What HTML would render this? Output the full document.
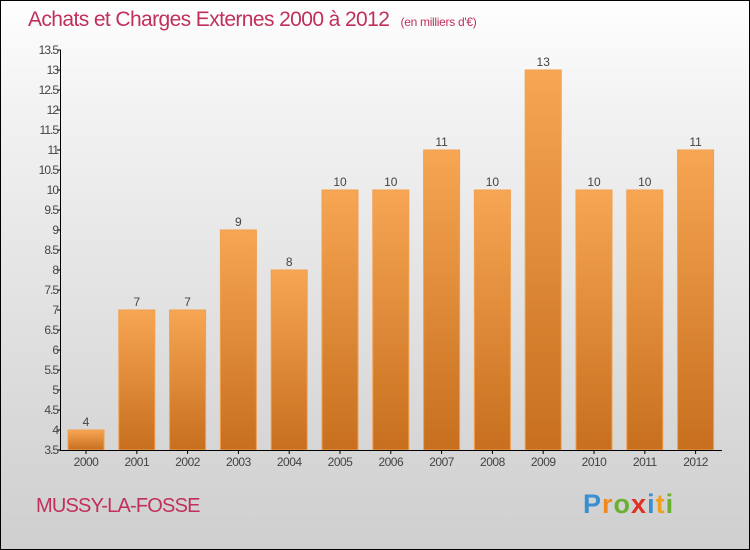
<!DOCTYPE html>
<html><head><meta charset="utf-8"><style>
body{margin:0;}
#c{width:750px;height:550px;position:relative;box-sizing:border-box;border:1px solid #000;background:linear-gradient(#fefefe,#f2f2f2 20%,#d9d9d9 75%,#cfcfcf);font-family:"Liberation Sans",sans-serif;overflow:hidden}
</style></head><body>
<div id="c">
<div style="position:absolute;left:27px;top:7px;font-size:21px;color:#c0305a;white-space:nowrap;letter-spacing:-0.6px">Achats et Charges Externes 2000 à 2012 <span style="font-size:12px;margin-left:6px;letter-spacing:-0.3px">(en milliers d'€)</span></div>
<div style="position:absolute;left:35px;top:494px;font-size:20px;color:#c0305a;letter-spacing:-0.8px">MUSSY-LA-FOSSE</div>
<div style="position:absolute;left:582px;top:488px;font-size:27px;font-weight:bold;letter-spacing:1px"><span style="color:#3a8fd0">P</span><span style="color:#f08a20">r</span><span style="color:#6ab030">o</span><span style="color:#e03020">x</span><span style="color:#3a8fd0">i</span><span style="color:#f0a020">t</span><span style="color:#6ab030">i</span></div>
<svg id="s" width="750" height="550" style="position:absolute;left:-1px;top:-1px">
<defs><linearGradient id="g" x1="0" y1="0" x2="0" y2="1"><stop offset="0" stop-color="#f7a653"/><stop offset="1" stop-color="#c76f1e"/></linearGradient></defs>
</svg>
</div>
<script>
const years=["2000","2001","2002","2003","2004","2005","2006","2007","2008","2009","2010","2011","2012"];
const values=[4,7,7,9,8,10,10,11,10,13,10,10,11];
const ticks=[3.5,4,4.5,5,5.5,6,6.5,7,7.5,8,8.5,9,9.5,10,10.5,11,11.5,12,12.5,13,13.5];
const ns="http://www.w3.org/2000/svg",s=document.getElementById('s');
const y=v=>450-(v-3.5)*40, x=i=>86+i*50.8;
function mk(t,a){const e=document.createElementNS(ns,t);for(const k in a)e.setAttribute(k,a[k]);s.appendChild(e);return e;}
values.forEach((v,i)=>{
 const r=mk('rect',{x:x(i)-18,y:y(v),width:36,height:450-y(v),fill:'url(#g)',stroke:'#f0a050','stroke-width':1});
 
 
 const t=mk('text',{x:x(i),y:y(v)-4,'text-anchor':'middle','font-size':12,fill:'#444','font-family':'Liberation Sans'});t.textContent=v;
 
 
 const l=mk('text',{x:x(i),y:466,'text-anchor':'middle','font-size':12,fill:'#444','font-family':'Liberation Sans','letter-spacing':'-0.5'});l.textContent=years[i];
 
 
 mk('line',{x1:x(i),x2:x(i),y1:450,y2:454,stroke:'#000'});
});
ticks.forEach(v=>{
 mk('line',{x1:57,x2:61,y1:y(v),y2:y(v),stroke:'#000'});
 const t=mk('text',{x:58,y:y(v)+4,'text-anchor':'end','font-size':12,fill:'#444','font-family':'Liberation Sans','letter-spacing':'-1'});t.textContent=v;
 
 
});
const ya=mk('line',{x1:60.5,x2:60.5,y1:50,y2:450,stroke:'#000'});


const xa=mk('line',{x1:60,x2:722,y1:450.5,y2:450.5,stroke:'#000'});


</script>
</body></html>
